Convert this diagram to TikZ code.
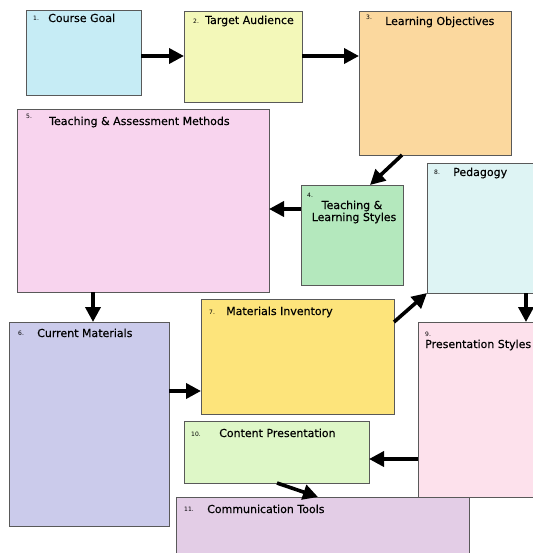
\documentclass[tikz,border=0pt]{standalone}
\usepackage{fontspec}
\setmainfont{DejaVu Sans}
\newfontfamily\tfont[FakeBold=0.3,BoldFont={DejaVu Sans},BoldFeatures={FakeBold=0.3}]{DejaVu Sans}
\usetikzlibrary{arrows.meta}
\definecolor{c1}{HTML}{C6ECF5}
\definecolor{c2}{HTML}{F3F8B9}
\definecolor{c3}{HTML}{FBD89E}
\definecolor{c4}{HTML}{B4E8BD}
\definecolor{c5}{HTML}{F8D4EE}
\definecolor{c6}{HTML}{CBCBEB}
\definecolor{c7}{HTML}{FDE47B}
\definecolor{c8}{HTML}{DEF4F4}
\definecolor{c9}{HTML}{FDE1EC}
\definecolor{c10}{HTML}{DEF7C7}
\definecolor{c11}{HTML}{E3CDE6}
\begin{document}
\begin{tikzpicture}[x=1pt,y=-1pt,
  box/.style={draw=black!65,line width=0.8pt,anchor=north west,inner sep=0pt,outer sep=0pt},
  ttl/.style={anchor=base west,inner sep=0pt,font=\tfont\bfseries\fontsize{11}{13}\selectfont},
  num/.style={anchor=base west,inner sep=0pt,font=\fontsize{6}{7}\selectfont},
  arr/.style={line width=3.6pt,-{Triangle[length=15pt,width=15pt]},shorten >=0pt}]
\useasboundingbox[fill=white] (0,0) rectangle (532,553);
% boxes
\node[box,fill=c1,minimum width=115pt,minimum height=85pt] (b1) at (26,10) {};
\node[box,fill=c2,minimum width=118pt,minimum height=91pt] (b2) at (184,11) {};
\node[box,fill=c3,minimum width=152pt,minimum height=144pt] (b3) at (359,11) {};
\node[box,fill=c5,minimum width=252pt,minimum height=183pt] (b5) at (17,109) {};
\node[box,fill=c4,minimum width=102pt,minimum height=100pt] (b4) at (301,185) {};
\node[box,fill=c8,minimum width=110pt,minimum height=130pt] (b8) at (427,163) {};
\node[box,fill=c7,minimum width=193pt,minimum height=115pt] (b7) at (201,299) {};
\node[box,fill=c6,minimum width=160pt,minimum height=204pt] (b6) at (9,322) {};
\node[box,fill=c9,minimum width=120pt,minimum height=175pt] (b9) at (418,322) {};
\node[box,fill=c10,minimum width=185pt,minimum height=62pt] (b10) at (184,421) {};
\node[box,fill=c11,minimum width=293pt,minimum height=62pt] (b11) at (176,497) {};
% texts
\node[num] (n1) at (33,21) {1.};
\node[ttl] (t1) at (48,22) {Course Goal};
\node[num] (n2) at (193,24) {2.};
\node[ttl] (t2) at (205,24) {Target Audience};
\node[num] (n3) at (366,20) {3.};
\node[ttl] (t3) at (385,25) {Learning Objectives};
\node[num] (n5) at (26,119) {5.};
\node[ttl] (t5) at (49,125) {Teaching \& Assessment Methods};
\node[num] (n4) at (307,197) {4.};
\node[ttl,anchor=base] (t4a) at (352,209) {Teaching \&};
\node[ttl,anchor=base] (t4b) at (354,221) {Learning Styles};
\node[num] (n8) at (434,175) {8.};
\node[ttl] (t8) at (453,176) {Pedagogy};
\node[num] (n7) at (209,314) {7.};
\node[ttl] (t7) at (226,315) {Materials Inventory};
\node[num] (n6) at (18,335) {6.};
\node[ttl] (t6) at (37,337) {Current Materials};
\node[num] (n9) at (425,336) {9.};
\node[ttl] (t9) at (425,348) {Presentation Styles};
\node[num] (n10) at (191,436) {10.};
\node[ttl] (t10) at (219,437) {Content Presentation};
\node[num] (n11) at (184,511) {11.};
\node[ttl] (t11) at (207,513) {Communication Tools};
% arrows
\draw[arr] (b1.east |- 0,56) -- (b2.west |- 0,56);
\draw[arr] (b2.east |- 0,56) -- (b3.west |- 0,56);
\draw[arr] ([xshift=43pt]b3.south west) -- ([xshift=69pt]b4.north west);
\draw[arr] (b4.west |- 0,209) -- (b5.east |- 0,209);
\draw[arr] (b5.south -| 93,0) -- (b6.north -| 93,0);
\draw[arr] (b6.east |- 0,391) -- (b7.west |- 0,391);
\draw[arr] ([yshift=-23pt]b7.north east) -- (b8.south west);
\draw[arr] (b8.south -| 526,0) -- (b9.north -| 526,0);
\draw[arr] (b9.west |- 0,459) -- (b10.east |- 0,459);
\draw[arr] ([xshift=93pt]b10.south west) -- ([xshift=142pt]b11.north west);
\end{tikzpicture}
\end{document}
